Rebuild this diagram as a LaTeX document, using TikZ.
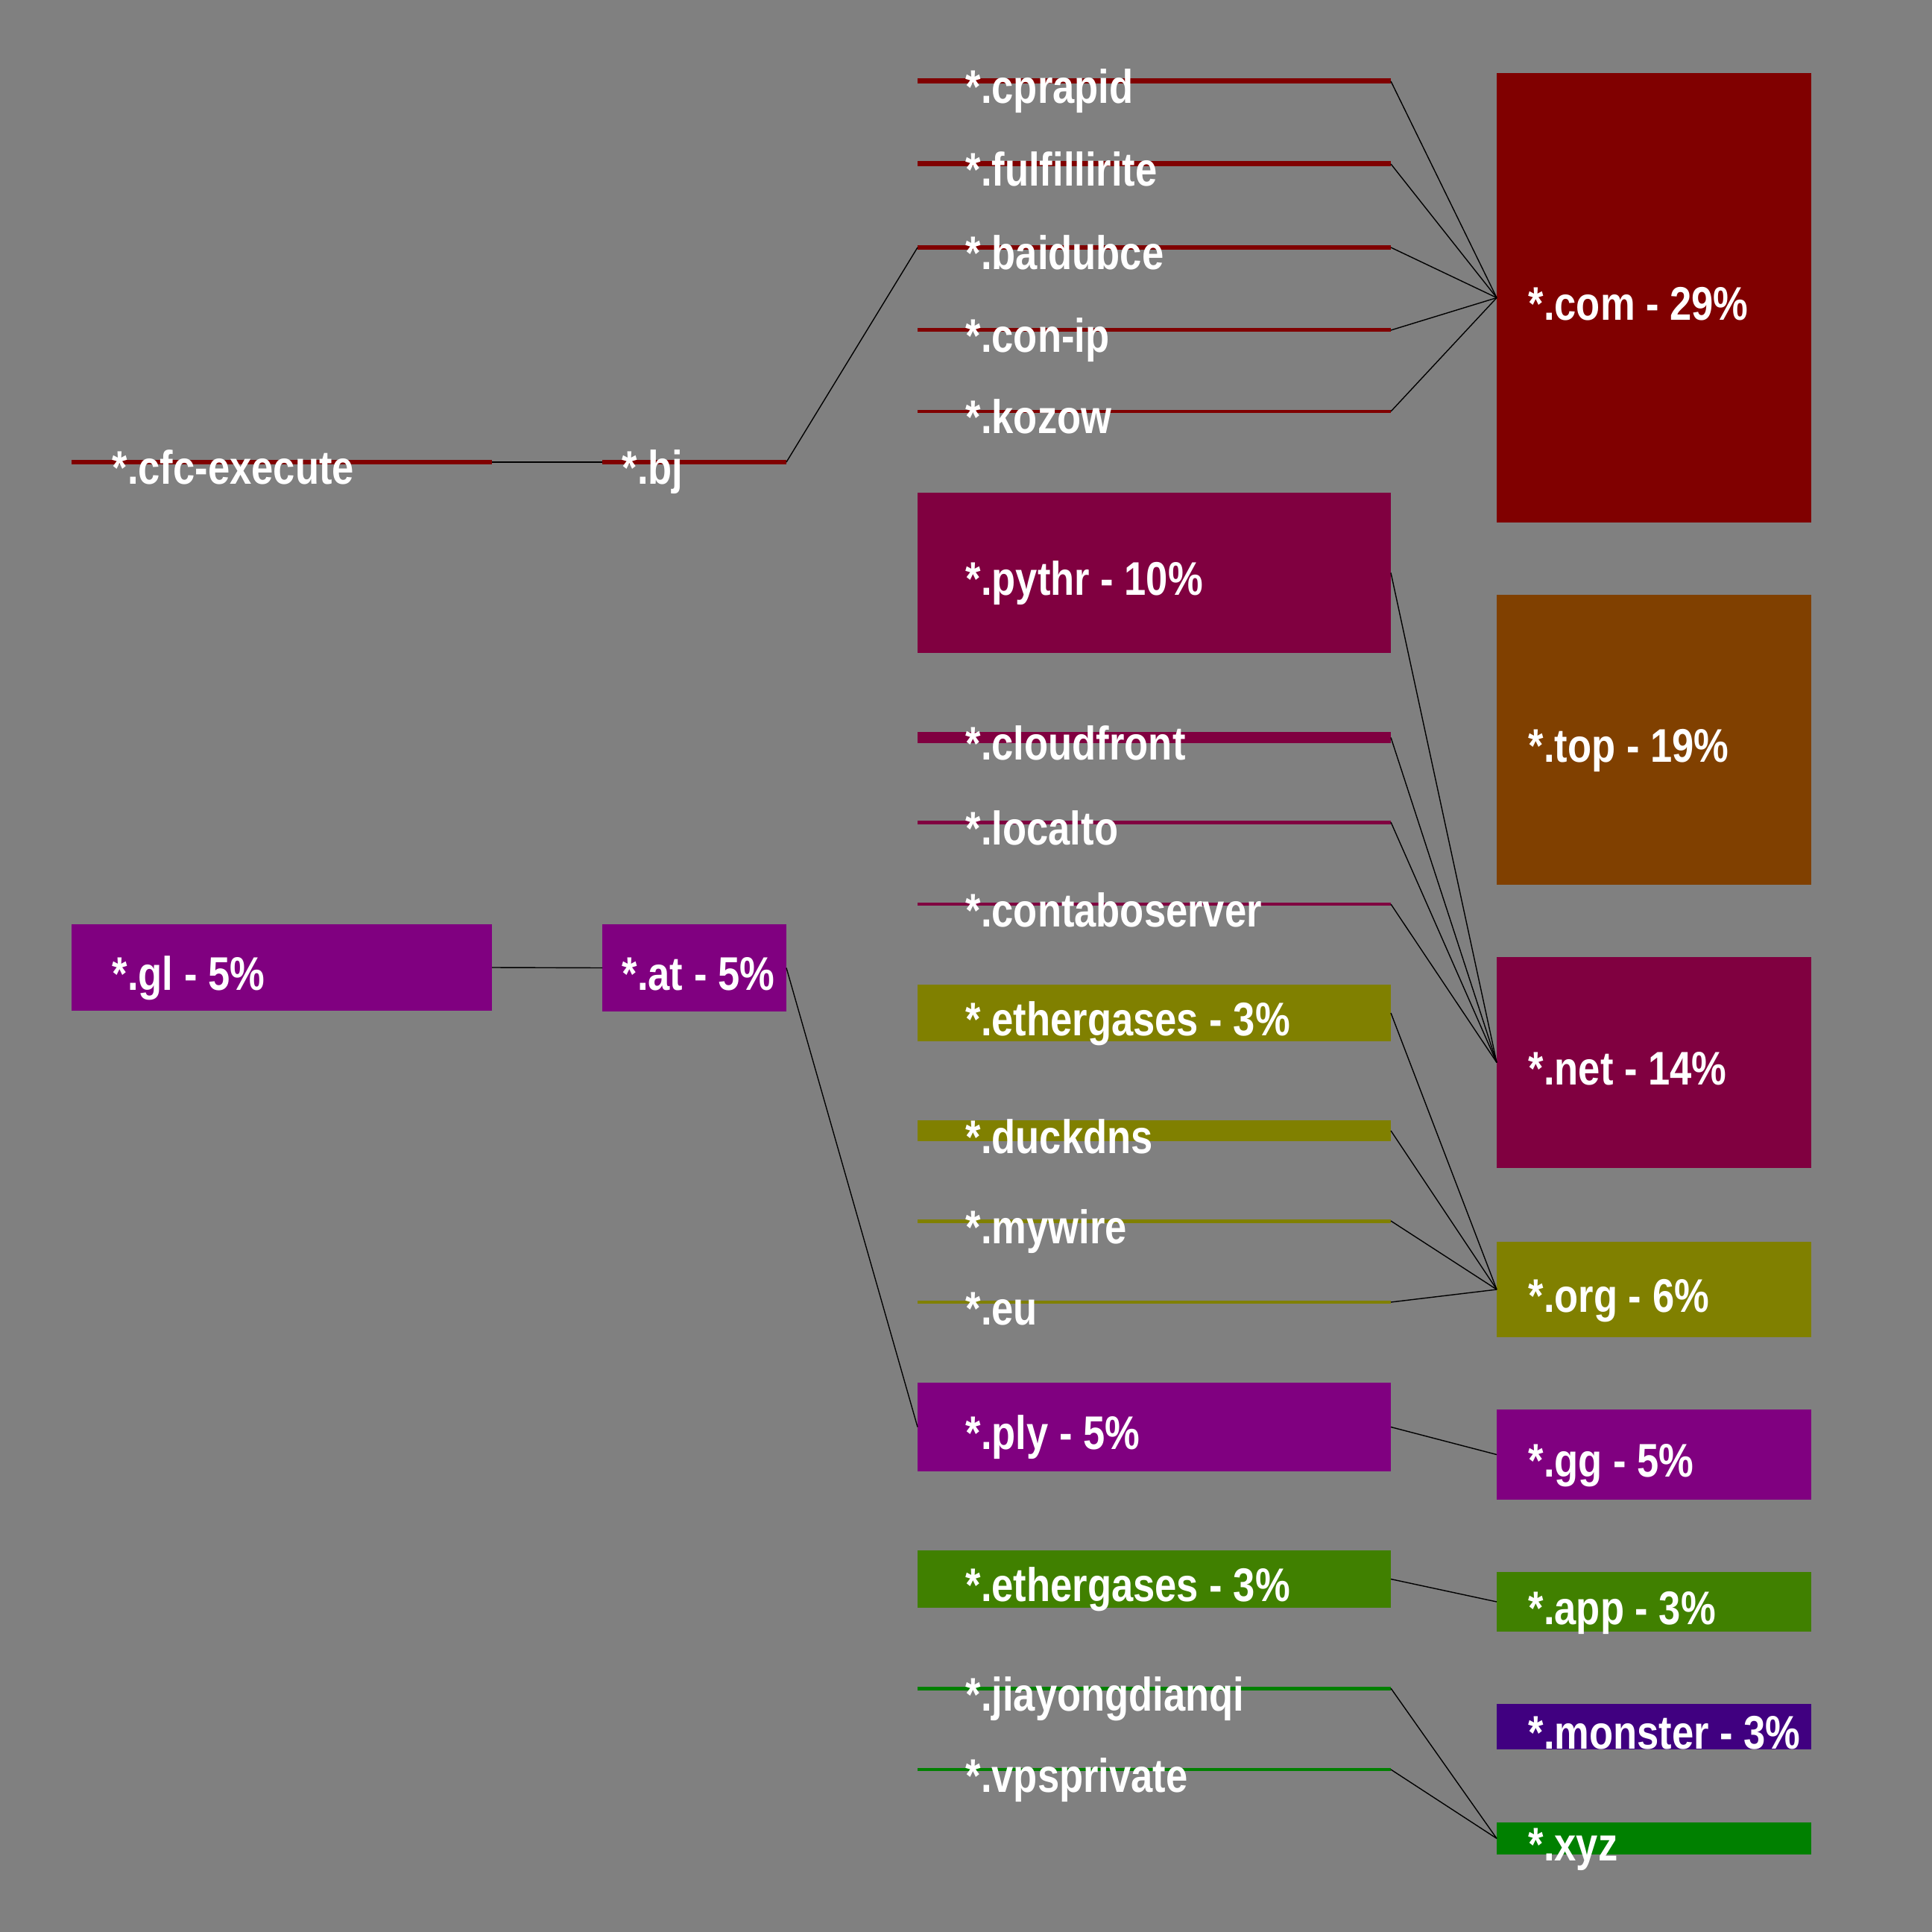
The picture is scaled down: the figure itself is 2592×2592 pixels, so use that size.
\documentclass[tikz,border=0pt]{standalone}
\usepackage{fontspec}
\newfontfamily\tldfont{Liberation Sans}[FakeStretch=0.83]
\usetikzlibrary{calc, fit}
\definecolor{bggrey}{HTML}{808080}
\definecolor{cmaroon}{HTML}{800000}
\definecolor{cbrown}{HTML}{804000}
\definecolor{cwine}{HTML}{800040}
\definecolor{colive}{HTML}{808000}
\definecolor{cpurple}{HTML}{800080}
\definecolor{cleaf}{HTML}{408000}
\definecolor{cindigo}{HTML}{400080}
\definecolor{cgreen}{HTML}{008000}

\begin{document}
\begin{tikzpicture}[x=0.01cm, y=-0.01cm,
  box/.style={rectangle, inner sep=0pt, outer sep=0pt},
  tld/.style={anchor=base west, inner sep=0pt, text=white,
    font=\tldfont\bfseries\fontsize{18}{20}\selectfont},
  link/.style={black, line width=0.4pt}]
  % Fond
  \useasboundingbox (0,0) rectangle (2592,2592);
  \fill[bggrey] (0,0) rectangle (2592,2592);
  % Colonne gauche
  \node[box, fill=cmaroon, fit={(96,617) (660,623)}] (cfc) {};
  \node[box, fill=cpurple, fit={(96,1240) (660,1356)}] (gl) {};
  \node[tld] (cfc-t) at ($(cfc.west)+(54,30)$) {*.cfc-execute};
  \node[tld] (gl-t) at ($(gl.west)+(54,30)$) {*.gl - 5\%};
  % Colonne milieu
  \node[box, fill=cmaroon, fit={(808,617) (1055,623)}] (bj) {};
  \node[box, fill=cpurple, fit={(808,1240) (1055,1357)}] (at) {};
  \node[tld] (bj-t) at ($(bj.west)+(26,30)$) {*.bj};
  \node[tld] (at-t) at ($(at.west)+(26,30)$) {*.at - 5\%};
  % Troisieme colonne
  \node[box, fill=cmaroon, fit={(1231,105.5) (1866,112.5)}] (cprapid) {};
  \node[box, fill=cmaroon, fit={(1231,216.5) (1866,223.5)}] (fulfillirite) {};
  \node[box, fill=cmaroon, fit={(1231,329) (1866,335)}] (baidubce) {};
  \node[box, fill=cmaroon, fit={(1231,440.5) (1866,445.5)}] (con-ip) {};
  \node[box, fill=cmaroon, fit={(1231,550) (1866,554)}] (kozow) {};
  \node[box, fill=cwine, fit={(1231,661) (1866,876)}] (pythr) {};
  \node[box, fill=cwine, fit={(1231,982) (1866,997)}] (cloudfront) {};
  \node[box, fill=cwine, fit={(1231,1100.5) (1866,1105.5)}] (localto) {};
  \node[box, fill=cwine, fit={(1231,1211) (1866,1215)}] (contaboserver) {};
  \node[box, fill=colive, fit={(1231,1321) (1866,1397)}] (ether-ol) {};
  \node[box, fill=colive, fit={(1231,1503) (1866,1531)}] (duckdns) {};
  \node[box, fill=colive, fit={(1231,1635.5) (1866,1640.5)}] (mywire) {};
  \node[box, fill=colive, fit={(1231,1745) (1866,1749)}] (eu) {};
  \node[box, fill=cpurple, fit={(1231,1855) (1866,1974)}] (ply) {};
  \node[box, fill=cleaf, fit={(1231,2080) (1866,2157)}] (ether-gr) {};
  \node[box, fill=cgreen, fit={(1231,2262.5) (1866,2267.5)}] (jiayong) {};
  \node[box, fill=cgreen, fit={(1231,2372) (1866,2376)}] (vpsprivate) {};
  \node[tld] (cprapid-t) at ($(cprapid.west)+(64,30)$) {*.cprapid};
  \node[tld] (fulfillirite-t) at ($(fulfillirite.west)+(64,30)$) {*.fulfillirite};
  \node[tld] (baidubce-t) at ($(baidubce.west)+(64,30)$) {*.baidubce};
  \node[tld] (con-ip-t) at ($(con-ip.west)+(64,30)$) {*.con-ip};
  \node[tld] (kozow-t) at ($(kozow.west)+(64,30)$) {*.kozow};
  \node[tld] (pythr-t) at ($(pythr.west)+(64,30)$) {*.pythr - 10\%};
  \node[tld] (cloudfront-t) at ($(cloudfront.west)+(64,30)$) {*.cloudfront};
  \node[tld] (localto-t) at ($(localto.west)+(64,30)$) {*.localto};
  \node[tld] (contaboserver-t) at ($(contaboserver.west)+(64,30)$) {*.contaboserver};
  \node[tld] (ether-ol-t) at ($(ether-ol.west)+(64,30)$) {*.ethergases - 3\%};
  \node[tld] (duckdns-t) at ($(duckdns.west)+(64,30)$) {*.duckdns};
  \node[tld] (mywire-t) at ($(mywire.west)+(64,30)$) {*.mywire};
  \node[tld] (eu-t) at ($(eu.west)+(64,30)$) {*.eu};
  \node[tld] (ply-t) at ($(ply.west)+(64,30)$) {*.ply - 5\%};
  \node[tld] (ether-gr-t) at ($(ether-gr.west)+(64,30)$) {*.ethergases - 3\%};
  \node[tld] (jiayong-t) at ($(jiayong.west)+(64,30)$) {*.jiayongdianqi};
  \node[tld] (vpsprivate-t) at ($(vpsprivate.west)+(64,30)$) {*.vpsprivate};
  % Colonne droite
  \node[box, fill=cmaroon, fit={(2008,98) (2430,701)}] (com) {};
  \node[box, fill=cbrown, fit={(2008,798) (2430,1187)}] (top) {};
  \node[box, fill=cwine, fit={(2008,1284) (2430,1567)}] (net) {};
  \node[box, fill=colive, fit={(2008,1666) (2430,1794)}] (org) {};
  \node[box, fill=cpurple, fit={(2008,1891) (2430,2012)}] (gg) {};
  \node[box, fill=cleaf, fit={(2008,2109) (2430,2189)}] (app) {};
  \node[box, fill=cindigo, fit={(2008,2286) (2430,2347)}] (monster) {};
  \node[box, fill=cgreen, fit={(2008,2445) (2430,2488)}] (xyz) {};
  \node[tld] (com-t) at ($(com.west)+(42,30)$) {*.com - 29\%};
  \node[tld] (top-t) at ($(top.west)+(42,30)$) {*.top - 19\%};
  \node[tld] (net-t) at ($(net.west)+(42,30)$) {*.net - 14\%};
  \node[tld] (org-t) at ($(org.west)+(42,30)$) {*.org - 6\%};
  \node[tld] (gg-t) at ($(gg.west)+(42,30)$) {*.gg - 5\%};
  \node[tld] (app-t) at ($(app.west)+(42,30)$) {*.app - 3\%};
  \node[tld] (monster-t) at ($(monster.west)+(42,30)$) {*.monster - 3\%};
  \node[tld] (xyz-t) at ($(xyz.west)+(42,30)$) {*.xyz};
  % Liens
  \draw[link] (cfc.east) -- (bj.west);
  \draw[link] (gl.east) -- (at.west);
  \draw[link] (bj.east) -- (baidubce.west);
  \draw[link] (at.east) -- (ply.west);
  \foreach \n in {cprapid, fulfillirite, baidubce, con-ip, kozow}
    \draw[link] (\n.east) -- (com.west);
  \foreach \n in {pythr, cloudfront, localto, contaboserver}
    \draw[link] (\n.east) -- (net.west);
  \foreach \n in {ether-ol, duckdns, mywire, eu}
    \draw[link] (\n.east) -- (org.west);
  \draw[link] (ply.east) -- (gg.west);
  \draw[link] (ether-gr.east) -- (app.west);
  \foreach \n in {jiayong, vpsprivate}
    \draw[link] (\n.east) -- (xyz.west);
\end{tikzpicture}
\end{document}
